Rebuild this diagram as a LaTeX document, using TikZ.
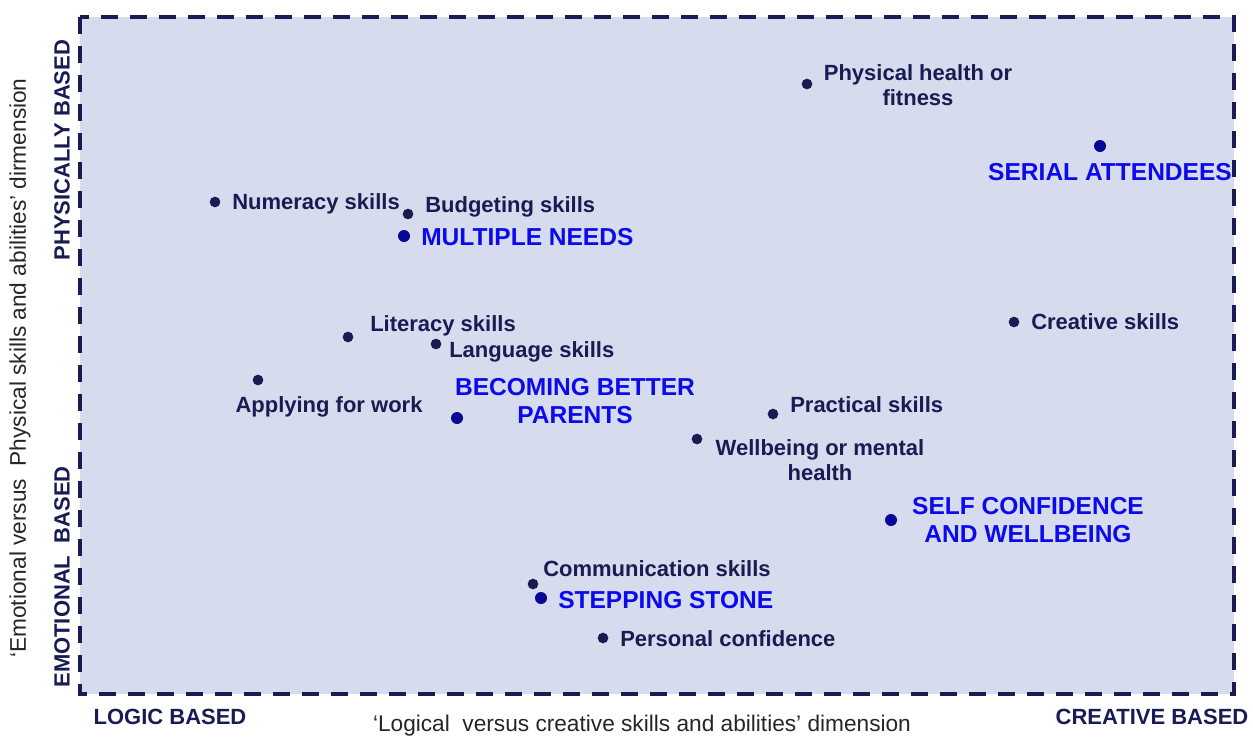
\documentclass[tikz,border=0pt]{standalone}
\usepackage{fontspec}
\setmainfont{Liberation Sans}
\definecolor{navy}{RGB}{24,28,82}
\definecolor{boxfill}{RGB}{214,219,238}
\definecolor{hiblue}{RGB}{10,10,235}
\definecolor{dotblue}{RGB}{8,8,150}
\begin{document}
\begin{tikzpicture}[x=0.75pt,y=-0.75pt,
    pt/.style={circle,fill=navy,inner sep=0pt,minimum size=8pt},
    bpt/.style={circle,fill=dotblue,inner sep=0pt,minimum size=9pt},
    lbl/.style={anchor=west,inner sep=0pt,text=navy,font=\fontsize{16.5}{18.5}\selectfont\bfseries},
    blbl/.style={anchor=west,inner sep=0pt,text=hiblue,font=\fontsize{18.4}{21.5}\selectfont\bfseries},
    axlbl/.style={inner sep=0pt,text=navy,font=\fontsize{16.5}{20}\selectfont\bfseries},
    axtitle/.style={inner sep=0pt,text=black!85,font=\fontsize{17}{20}\selectfont}]
\useasboundingbox (0,0) rectangle (1253,740);
\fill[boxfill] (80,16.5) rectangle (1234,694);
\draw[navy,line width=3pt,dash pattern=on 12.75pt off 9pt] (80,16.5) rectangle (1234,694);

% axis labels
\node[axlbl,rotate=90] (phys) at (62,150) {PHYSICALLY BASED};
\node[axlbl,rotate=90] (emot) at (62,577) {EMOTIONAL\ \ BASED};
\node[axlbl] (logic) at (170,717) {LOGIC BASED};
\node[axlbl] (creat) at (1152,717) {CREATIVE BASED};
\node[axtitle,rotate=90] (ytitle) at (20,368) {‘Emotional versus\ \ Physical skills and abilities’ dirmension};
\node[axtitle] (xtitle) at (642,726) {‘Logical\ \ versus creative skills and abilities’ dimension};

% skills
\foreach \n/\x/\y in {health/807/84,numeracy/215/202,budget/408/214,literacy/348/337,language/436/344,applying/258/380,practical/773/414,wellbeing/697/439,creative/1014/322,communication/533/584,personal/603/638}
    \node[pt] (\n) at (\x,\y) {};
\node[lbl,anchor=center,align=center] (healthtxt) at (918,85) {Physical health or\\fitness};
\node[lbl] (numeracytxt) at (232,204) {Numeracy skills};
\node[lbl] (budgettxt) at (425,207) {Budgeting skills};
\node[lbl] (literacytxt) at (370,326) {Literacy skills};
\node[lbl] (languagetxt) at (449,352) {Language skills};
\node[lbl,anchor=center] (applyingtxt) at (329,407) {Applying for work};
\node[lbl] (practicaltxt) at (790,405) {Practical skills};
\node[lbl,anchor=center,align=center,font=\fontsize{16.5}{19}\selectfont\bfseries] (wellbeingtxt) at (820,460) {Wellbeing or mental\\health};
\node[lbl] (creativetxt) at (1031,322) {Creative skills};
\node[lbl] (communicationtxt) at (543,569) {Communication skills};
\node[lbl] (personaltxt) at (620,639) {Personal confidence};

% groups
\foreach \n/\x/\y in {multiple/404/236,serial/1100/146,parents/457/418,selfconf/891/520,stepping/541/598}
    \node[bpt] (\n) at (\x,\y) {};
\node[blbl] (multipletxt) at (421,237) {MULTIPLE NEEDS};
\node[blbl,anchor=center] (serialtxt) at (1110,172) {SERIAL ATTENDEES};
\node[blbl,anchor=center,align=center] (parentstxt) at (575,401) {BECOMING BETTER\\PARENTS};
\node[blbl,anchor=center,align=center,font=\fontsize{18.4}{21}\selectfont\bfseries] (selfconftxt) at (1028,520) {SELF CONFIDENCE\\AND WELLBEING};
\node[blbl] (steppingtxt) at (558,600) {STEPPING STONE};
\end{tikzpicture}
\end{document}
